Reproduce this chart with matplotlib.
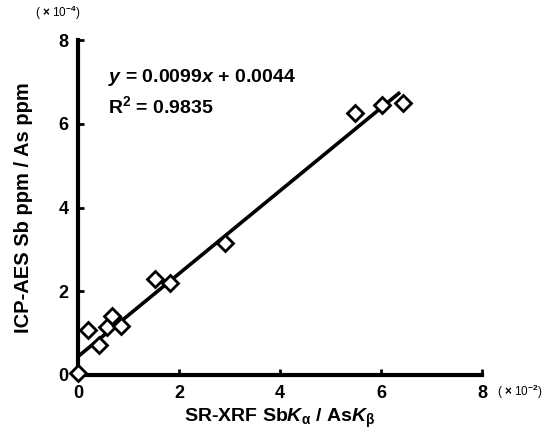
import numpy as np
import matplotlib.pyplot as plt

plt.rcParams['font.family'] = ['Liberation Sans', 'DejaVu Sans']
plt.rcParams['font.weight'] = 'bold'
plt.rcParams['axes.labelweight'] = 'bold'
plt.rcParams['mathtext.fontset'] = 'custom'
plt.rcParams['mathtext.rm'] = 'Liberation Sans:bold'
plt.rcParams['mathtext.it'] = 'Liberation Sans:bold:italic'
plt.rcParams['mathtext.bf'] = 'Liberation Sans:bold'

# SR-XRF intensity ratio (x 10^-2) vs ICP-AES concentration ratio (x 10^-4)
xrf_ratio = [0.0, 0.20, 0.42, 0.57, 0.67, 0.85, 1.52, 1.82, 2.91, 5.49, 6.02, 6.44]
icp_ratio = [0.05, 1.08, 0.72, 1.15, 1.41, 1.17, 2.30, 2.20, 3.16, 6.25, 6.44, 6.49]

# regression y = 0.0099x + 0.0044 in the scaled units
slope = 0.99
intercept = 0.44
fit_x = np.array([0.0, 6.35])

fig = plt.figure(figsize=(5.55, 4.36), dpi=100)
ax = fig.add_axes([0.1405, 0.14, 0.728, 0.768])

ax.plot(fit_x, slope * fit_x + intercept, color='black', lw=2.6, zorder=2)
ax.plot(xrf_ratio, icp_ratio, 'D', ms=8, mfc='white', mec='black', mew=2.0,
        clip_on=False, zorder=3)

ax.set_xlim(0, 8)
ax.set_ylim(0, 8)
ax.set_xticks([0, 2, 4, 6, 8])
ax.set_yticks([0, 2, 4, 6, 8])
ax.tick_params(direction='in', length=4, width=2, labelsize=13, pad=7)
for lbl in ax.get_xticklabels() + ax.get_yticklabels():
    lbl.set_fontweight('bold')
for s in ['top', 'right']:
    ax.spines[s].set_visible(False)
for s in ['left', 'bottom']:
    ax.spines[s].set_linewidth(3)

ax.set_xlabel(r'SR-XRF Sb$\it{K}_{\mathrm{α}}$ / As$\it{K}_{\mathrm{β}}$',
              fontsize=14, labelpad=4)
ax.set_ylabel('ICP-AES Sb ppm / As ppm', fontsize=14.5, labelpad=18)

ax.text(0.6, 7.0, r'$\it{y}$ = 0.0099$\it{x}$ + 0.0044', fontsize=14)
ax.text(0.6, 6.25, r'R$^2$ = 0.9835', fontsize=14)

ax.text(-0.85, 8.55, r'( $\times$ 10$^{-4}$)', fontsize=8.5, fontweight='normal')
ax.text(8.3, -0.5, r'( $\times$ 10$^{-2}$)', fontsize=8.5, fontweight='normal')

fig.savefig('out.png', dpi=100)
